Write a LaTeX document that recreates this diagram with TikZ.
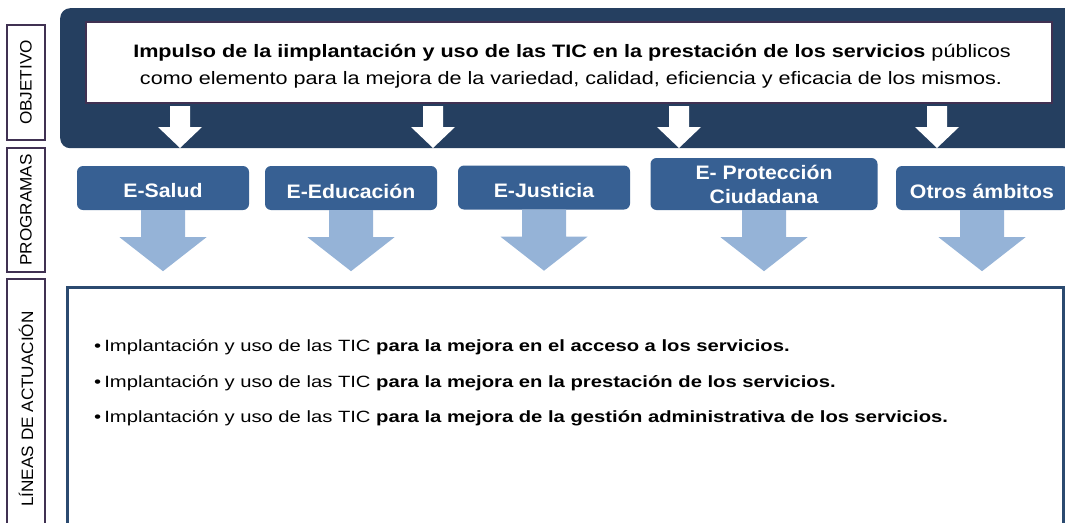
\documentclass[tikz,border=0pt]{standalone}
\usepackage{fontspec}
\setmainfont{Liberation Sans}
\definecolor{navy}{HTML}{253F60}
\definecolor{progblue}{HTML}{376093}
\definecolor{lightblue}{HTML}{95B3D7}
\definecolor{labpurple}{HTML}{403152}
\definecolor{boxnavy}{HTML}{2B4A70}
\tikzset{
  sidelab/.style={draw=labpurple, line width=2.4pt, fill=white, minimum width=38, inner sep=0pt},
  progbox/.style={fill=progblue, rounded corners=6, minimum width=172, minimum height=44,
    text=white, font=\fontsize{19.5}{21}\selectfont\bfseries, inner sep=0pt},
  objline/.style={anchor=base, inner sep=0pt, font=\fontsize{18}{20}\selectfont},
  bullet/.style={anchor=base west, inner sep=0pt, font=\fontsize{16.3}{18}\selectfont},
}
\newcommand{\sidetxt}[1]{\rotatebox{90}{\scalebox{1.04}[1]{\fontsize{16.5}{18}\selectfont #1}}}
\newcommand{\ptxt}[1]{\raisebox{-3pt}[\height][\depth]{\scalebox{1.09}[1]{#1}}}
% block arrow pointing down: style, start, shaft half, head half, shaft len, head len
\newcommand{\blkarrow}[6]{%
  \fill[#1] (#2) ++(-#3,0) -- ++(0,#5) -- ++({#3-#4},0) -- ++(#4,#6) -- ++(#4,-#6)
    -- ++({#3-#4},0) -- ++(0,-#5) -- cycle;}
\begin{document}
\begin{tikzpicture}[x=1pt,y=-1pt]
\useasboundingbox (0,0) rectangle (1065,522);
\clip (0,0) rectangle (1065,522);
% left labels
\node[sidelab, minimum height=115] (labobj) at (26,82.5) {\sidetxt{OBJETIVO}};
\node[sidelab, minimum height=124] (labprog) at (26,210) {\sidetxt{PROGRAMAS}};
\node[sidelab, minimum height=260] (lablin) at (26,409) {\sidetxt{LÍNEAS DE ACTUACIÓN}};
% objective
\node[fill=navy, rounded corners=10, minimum width=1040, minimum height=140,
  anchor=north west, inner sep=0pt] (objbg) at (60,8) {};
\node[draw=labpurple, line width=1.3pt, fill=white, minimum width=966, minimum height=81,
  inner sep=0pt] (obj) at (569,62.5) {};
\node[objline] (obj1) at (572,57.5) {\scalebox{1.2}[1]{\textbf{Impulso de la iimplantación y uso de las TIC en la prestación de los servicios} públicos}};
\node[objline] (obj2) at (571,84.5) {\scalebox{1.2}[1]{como elemento para la mejora de la variedad, calidad, eficiencia y eficacia de los mismos.}};
\coordinate (w1) at (180,106);
\coordinate (w2) at (433,106);
\coordinate (w3) at (679,106);
\coordinate (w4) at (937,106);
\blkarrow{white}{w1}{10}{22}{21}{21}
\blkarrow{white}{w2}{10}{22}{21}{21}
\blkarrow{white}{w3}{10}{22}{21}{21}
\blkarrow{white}{w4}{10}{22}{21}{21}
% programs
\node[progbox] (sal) at (163,188) {\ptxt{E-Salud}};
\node[progbox] (edu) at (351,188) {\ptxt{E-Educación}};
\node[progbox] (jus) at (544,187.5) {\ptxt{E-Justicia}};
\node[progbox, minimum width=227, minimum height=52] (pro) at (764,184)
  {\ptxt{\begin{tabular}{@{}c@{}}E- Protección\\[3pt]Ciudadana\end{tabular}}};
\node[progbox] (otr) at (982,188) {\ptxt{Otros ámbitos}};
\blkarrow{lightblue}{sal.south}{22}{43.5}{27}{34}
\blkarrow{lightblue}{edu.south}{22}{43.5}{27}{34}
\blkarrow{lightblue}{jus.south}{22}{43.5}{27}{34}
\blkarrow{lightblue}{pro.south}{22}{43.5}{27}{34}
\blkarrow{lightblue}{otr.south}{22}{43.5}{27}{34}
% lines of action
\node[draw=boxnavy, line width=3pt, fill=white, minimum width=996, minimum height=260,
  anchor=north west, inner sep=0pt] (lin) at (65.5,285.5) {};
\node[bullet] (b1) at (94,351)
  {\scalebox{1.24}[1]{•\hspace{2.5pt}Implantación y uso de las TIC \textbf{para la mejora en el acceso a los servicios.}}};
\node[bullet] (b2) at (94,387)
  {\scalebox{1.24}[1]{•\hspace{2.5pt}Implantación y uso de las TIC \textbf{para la mejora en la prestación de los servicios.}}};
\node[bullet] (b3) at (94,422)
  {\scalebox{1.24}[1]{•\hspace{2.5pt}Implantación y uso de las TIC \textbf{para la mejora de la gestión administrativa de los servicios.}}};
\end{tikzpicture}
\end{document}
